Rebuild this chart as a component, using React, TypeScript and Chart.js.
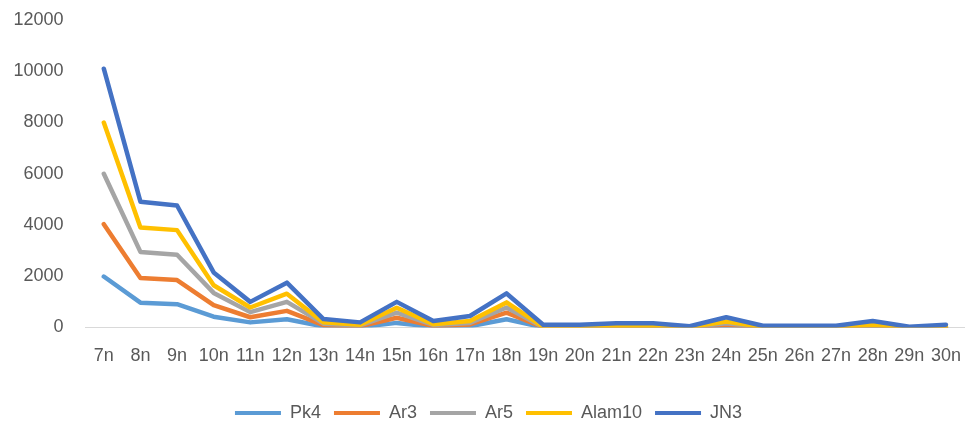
import React, { useEffect, useRef } from "react";
import { Chart, registerables } from "chart.js";

Chart.register(...registerables);

const categories = [
  "7n", "8n", "9n", "10n", "11n", "12n", "13n", "14n", "15n", "16n", "17n", "18n",
  "19n", "20n", "21n", "22n", "23n", "24n", "25n", "26n", "27n", "28n", "29n", "30n",
];

// Stacked (Excel "stacked line") contributions of each series
const pk4 = [1990, 970, 910, 420, 200, 320, 40, 20, 180, 30, 50, 320, 5, 5, 10, 10, 5, 50, 5, 5, 5, 20, 0, 5];
const ar3 = [2040, 960, 940, 450, 200, 330, 50, 30, 200, 30, 70, 260, 5, 5, 10, 10, 5, 60, 5, 5, 5, 30, 0, 5];
const ar5 = [1970, 1020, 990, 480, 200, 350, 60, 30, 200, 40, 60, 200, 5, 5, 15, 15, 5, 60, 5, 5, 5, 30, 0, 10];
const alam10 = [2000, 950, 960, 300, 180, 320, 50, 30, 190, 30, 70, 200, 10, 10, 25, 25, 5, 60, 5, 5, 5, 30, 0, 10];
const jn3 = [2100, 1010, 960, 500, 220, 430, 130, 90, 230, 120, 200, 350, 85, 85, 110, 110, 30, 170, 50, 50, 50, 140, 30, 80];

const seriesNames = ["Pk4", "Ar3", "Ar5", "Alam10", "JN3"];
const seriesValues = [pk4, ar3, ar5, alam10, jn3];
const seriesColors = ["#5B9BD5", "#ED7D31", "#A5A5A5", "#FFC000", "#4472C4"];

const yTicks = [0, 2000, 4000, 6000, 8000, 10000, 12000];

const FONT = "'Liberation Sans', Arial, sans-serif";
const TEXT = "#595959";

export default function App() {
  const ref = useRef<HTMLCanvasElement | null>(null);

  useEffect(() => {
    if (!ref.current) return;
    const stacked = seriesValues.map((_, i) =>
      categories.map((__, j) =>
        seriesValues.slice(0, i + 1).reduce((acc, s) => acc + s[j], 0)
      )
    );
    const chart = new Chart(ref.current, {
      type: "line",
      data: {
        labels: categories,
        datasets: seriesNames.map((name, i) => ({
          label: name,
          data: stacked[i],
          borderColor: seriesColors[i],
          backgroundColor: seriesColors[i],
          borderWidth: 4.5,
          pointRadius: 0,
          pointHoverRadius: 0,
          tension: 0,
          fill: false,
          borderJoinStyle: "round" as const,
          borderCapStyle: "round" as const,
          order: seriesNames.length - 1 - i,
        })),
      },
      options: {
        responsive: true,
        maintainAspectRatio: false,
        animation: false,
        layout: { padding: { top: 20, right: 2, left: 0, bottom: -7 } },
        font: { family: FONT },
        plugins: {
          tooltip: { enabled: false },
          legend: {
            position: "bottom",
            labels: {
              usePointStyle: true,
              pointStyle: "line",
              pointStyleWidth: 46,
              padding: 13,
              color: TEXT,
              font: { family: FONT, size: 18 },
              sort: (a: any, b: any) => a.datasetIndex - b.datasetIndex,
              generateLabels: (chart: any) => {
                const items = Chart.defaults.plugins.legend.labels.generateLabels(chart);
                return items.map((it: any) => ({ ...it, lineWidth: 4 }));
              },
            },
          },
        },
        scales: {
          x: {
            offset: true,
            grid: { display: false, drawTicks: false },
            border: { display: true, color: "#D9D9D9", width: 1 },
            ticks: {
              color: TEXT,
              font: { family: FONT, size: 18 },
              padding: 18,
              maxRotation: 0,
              autoSkip: false,
            },
            afterFit: (s: any) => {
              s.height = 63.5;
            },
          },
          y: {
            min: 0,
            max: 12000,
            grid: { display: false, drawTicks: false },
            border: { display: false },
            afterBuildTicks: (s: any) => {
              s.ticks = yTicks.map((v) => ({ value: v }));
            },
            ticks: {
              color: TEXT,
              font: { family: FONT, size: 18 },
              padding: 22,
              callback: (v: any) => String(v),
            },
            afterFit: (s: any) => {
              s.width = 85.5;
              s.paddingTop = 0;
              s.paddingBottom = 0;
            },
          },
        },
      },
    });
    return () => chart.destroy();
  }, []);

  return (
    <div style={{ position: "fixed", left: 0, top: 0, width: 979, height: 425, background: "#fff" }}>
      <canvas ref={ref} />
    </div>
  );
}
